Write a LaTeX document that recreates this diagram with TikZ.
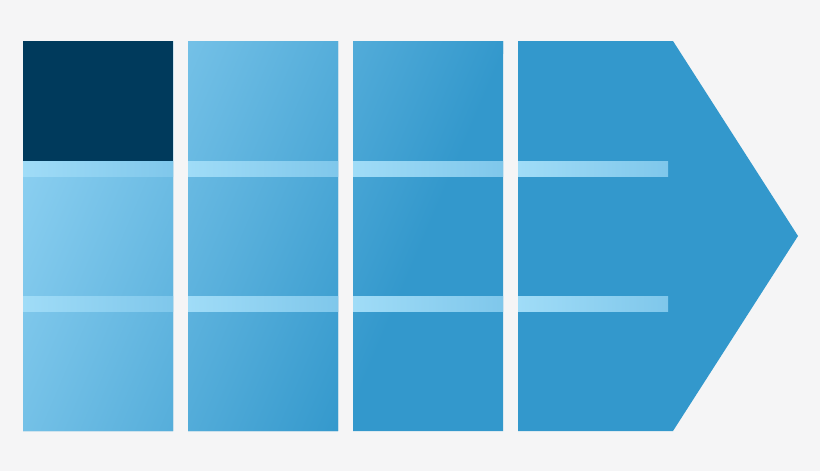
\documentclass[tikz,border=0pt]{standalone}
\usepackage{tikz}

\definecolor{bggray}{HTML}{F5F5F6}
\definecolor{navy}{HTML}{003A5C}
\definecolor{baseblue}{HTML}{3398CC}
\definecolor{paleblue}{HTML}{96D6F5}
\definecolor{bandleft}{HTML}{A0DCF7}
\definecolor{bandright}{HTML}{7FC7EB}

\tikzset{band/.style={left color=bandleft, right color=bandright}}

\begin{document}
\begin{tikzpicture}[x=1pt, y=-1pt]
		\useasboundingbox[fill=bggray] (0,0) rectangle (820,471);

		% Spaltenecken
		\coordinate (A) at (23, 41);
		\coordinate (B) at (188, 41);
		\coordinate (C) at (353, 41);
		\coordinate (D) at (518, 41);
		\coordinate (E) at (673, 41);
		\coordinate (T) at (798, 236);
		\coordinate (F) at (673, 431);

		\fill[baseblue] (A) rectangle ++(150, 390)
			(B) rectangle ++(150, 390)
			(C) rectangle ++(150, 390)
			(D) -- (E) -- (T) -- (F) -- (518, 431) -- cycle;

		% Verlauf ueber die ersten drei Spalten
		\begin{scope}
			\clip (A) rectangle ++(150, 390)
				(B) rectangle ++(150, 390)
				(C) rectangle ++(150, 390);
			\begin{scope}[transform canvas={rotate around={-23:(23, 161)}}]
				\shade[left color=paleblue, right color=baseblue] (-27, -439) rectangle (423, 761);
			\end{scope}
		\end{scope}

		\fill[navy] (A) rectangle ++(150, 120);

		% helle Streifen
		\shade[band] (23, 161) rectangle (173, 176);
		\shade[band] (188, 161) rectangle (338, 176);
		\shade[band] (353, 161) rectangle (503, 176);
		\shade[band] (518, 161) rectangle (668, 176);
		\shade[band] (23, 296) rectangle (173, 311);
		\shade[band] (188, 296) rectangle (338, 311);
		\shade[band] (353, 296) rectangle (503, 311);
		\shade[band] (518, 296) rectangle (668, 311);
	\end{tikzpicture}
\end{document}
